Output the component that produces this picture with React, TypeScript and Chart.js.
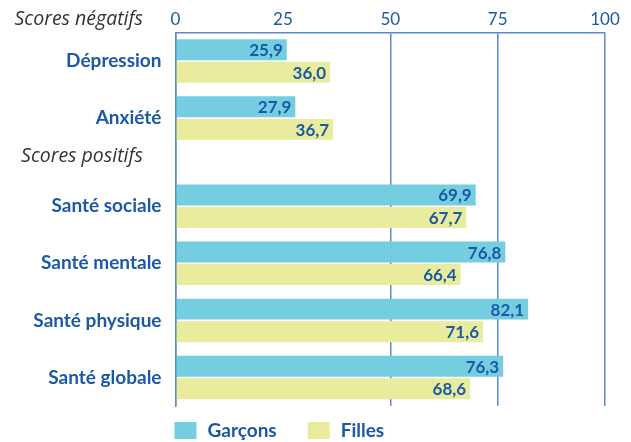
import React, { useEffect, useRef } from "react";
import { Chart, registerables } from "chart.js";

Chart.register(...registerables);

// ---- Data ----
const categories = ["Dépression", "Anxiété", "Santé sociale", "Santé mentale", "Santé physique", "Santé globale"];
const garcons = [25.9, 27.9, 69.9, 76.8, 82.1, 76.3];
const filles = [36.0, 36.7, 67.7, 66.4, 71.6, 68.6];
const seriesNames = ["Garçons", "Filles"];
const xTicks = [0, 25, 50, 75, 100];
const sectionTitles = ["Scores négatifs", "Scores positifs"];
const sectionStarts = [0, 2]; // index of first category of each section

// ---- Style ----
const BLUE = "#1b59a6";
const GRID = "#5b8bc9";
const CYAN = "#75cee0";
const YELLOW = "#e9ec9c";
const HEAD = "#333333";
const FONT = "Lato, 'Open Sans', sans-serif";
const HFONT = "'Open Sans', Lato, sans-serif";
const SECTION_GAP = 0.545;

const positions = categories.map((_, i) => i + (i >= sectionStarts[1] ? SECTION_GAP : 0));
const fmt = (v: number) => v.toFixed(1).replace(".", ",");

const valueLabels = {
  id: "valueLabels",
  afterDatasetsDraw(chart: any) {
    const ctx = chart.ctx;
    ctx.save();
    ctx.font = `bold 17px ${FONT}`;
    ctx.fillStyle = BLUE;
    ctx.textAlign = "right";
    ctx.textBaseline = "middle";
    chart.data.datasets.forEach((ds: any, di: number) => {
      const meta = chart.getDatasetMeta(di);
      meta.data.forEach((el: any, i: number) => {
        ctx.fillText(fmt(ds.data[i].x), el.x - 4, el.y + 1);
      });
    });
    ctx.restore();
  },
};

const extras = {
  id: "extras",
  afterDraw(chart: any) {
    const ctx = chart.ctx;
    const area = chart.chartArea;
    const yScale = chart.scales.y;
    ctx.save();
    // section headings
    ctx.font = `italic 19.5px ${HFONT}`;
    ctx.fillStyle = HEAD;
    ctx.textAlign = "right";
    ctx.textBaseline = "middle";
    ctx.fillText(sectionTitles[0], 143, 19);
    const pA = yScale.getPixelForValue(positions[sectionStarts[1] - 1]);
    const pB = yScale.getPixelForValue(positions[sectionStarts[1]]);
    ctx.fillText(sectionTitles[1], 143, (pA + pB) / 2 - 6);
    // legend
    ctx.font = `bold 19px ${FONT}`;
    ctx.textAlign = "left";
    let x = area.left - 1;
    const y = 422;
    chart.data.datasets.forEach((ds: any) => {
      ctx.fillStyle = ds.backgroundColor;
      ctx.fillRect(x, y, 22, 17);
      ctx.fillStyle = BLUE;
      const tx = x + 33;
      ctx.fillText(ds.label, tx, y + 9);
      x = tx + ctx.measureText(ds.label).width + 31;
    });
    ctx.restore();
  },
};

export default function App() {
  const ref = useRef<HTMLCanvasElement>(null);
  useEffect(() => {
    document.body.style.margin = "0";
    const canvas = ref.current!;
    const chart = new Chart(canvas, {
      type: "bar",
      data: {
        datasets: [
          {
            label: seriesNames[0],
            data: garcons.map((v, i) => ({ x: v, y: positions[i] })),
            backgroundColor: CYAN,
            categoryPercentage: 0.79,
            barPercentage: 0.93,
          },
          {
            label: seriesNames[1],
            data: filles.map((v, i) => ({ x: v, y: positions[i] })),
            backgroundColor: YELLOW,
            categoryPercentage: 0.79,
            barPercentage: 0.93,
          },
        ],
      },
      options: {
        indexAxis: "y",
        responsive: false,
        animation: false,
        layout: { padding: { left: 0, right: 26, top: 0, bottom: 36 } },
        plugins: { legend: { display: false }, tooltip: { enabled: false } },
        scales: {
          x: {
            type: "linear",
            position: "top",
            min: 0,
            max: 100,
            afterBuildTicks: (s: any) => {
              s.ticks = xTicks.map((v) => ({ value: v }));
            },
            afterFit: (s: any) => {
              s.height = 32.5;
            },
            ticks: {
              color: BLUE,
              font: { family: FONT, size: 17 },
              padding: 3,
              autoSkip: false,
              maxRotation: 0,
            },
            grid: {
              drawTicks: false,
              lineWidth: 1.5,
              color: (c: any) => (c.tick && c.tick.value === 25 ? "rgba(0,0,0,0)" : GRID),
            },
            border: { display: true, color: GRID, width: 1.5 },
          },
          y: {
            type: "linear",
            reverse: true,
            offset: false,
            min: -0.5,
            max: positions[positions.length - 1] + 0.5,
            afterBuildTicks: (s: any) => {
              s.ticks = positions.map((v) => ({ value: v }));
            },
            afterFit: (s: any) => {
              s.width = 175.5;
            },
            ticks: {
              color: BLUE,
              font: { family: FONT, size: 19, weight: "bold" },
              padding: 14,
              autoSkip: false,
              callback: (v: any) => {
                const i = positions.findIndex((p) => Math.abs(p - Number(v)) < 1e-6);
                return i >= 0 ? categories[i] : "";
              },
            },
            grid: { display: false, drawTicks: false },
            border: { display: true, color: GRID, width: 1.5, z: 1 },
          },
        },
      },
      plugins: [valueLabels, extras],
    } as any);
    return () => chart.destroy();
  }, []);
  return <canvas ref={ref} width={631} height={442} style={{ display: "block" }} />;
}
